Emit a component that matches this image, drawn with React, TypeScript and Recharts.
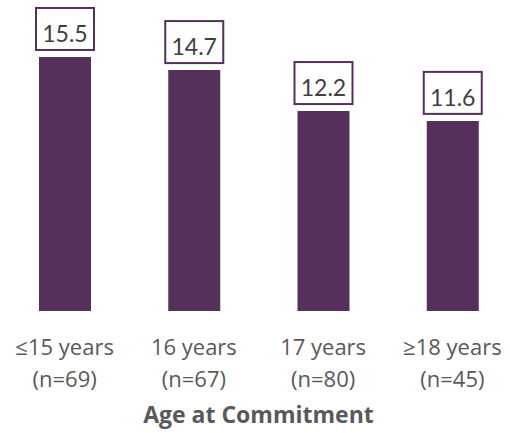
import { BarChart, Bar, XAxis, YAxis, LabelList } from "recharts"

const categories = ["≤15 years", "16 years", "17 years", "≥18 years"]
const sampleSizes = ["(n=69)", "(n=67)", "(n=80)", "(n=45)"]
const values = [15.5, 14.7, 12.2, 11.6]

const data = categories.map((age, i) => ({ age, n: sampleSizes[i], value: values[i] }))

const purple = "#54305a"
const textGray = "#595959"
const font = "'Open Sans', sans-serif"
const labelFont = "Lato, sans-serif"

function AgeTick(props: any) {
  const { x, y, payload, index } = props
  return (
    <text x={x} y={y} textAnchor="middle" fill={textGray} fontSize={22} fontFamily={font}>
      <tspan x={x} dy={36}>{payload.value}</tspan>
      <tspan x={x} dy={32}>{sampleSizes[index]}</tspan>
    </text>
  )
}

function BoxLabel(props: any) {
  const { x, y, width, value } = props
  const cx = x + width / 2
  const boxW = 58
  const boxH = 42
  const bottom = y - 7
  return (
    <g>
      <rect x={cx - boxW / 2} y={bottom - boxH} width={boxW} height={boxH} fill="#fff" stroke={purple} strokeWidth={2} />
      <text x={cx} y={bottom - 8} textAnchor="middle" fill="#404040" fontSize={23} fontFamily={labelFont}>
        {value.toFixed(1)}
      </text>
    </g>
  )
}

export default function App() {
  return (
    <div style={{ position: "absolute", left: 0, top: 0, width: 510, height: 433, overflow: "hidden" }}>
      <BarChart width={518} height={433} data={data} margin={{ top: 16, right: 1, bottom: 0, left: 0 }} barCategoryGap="30%">
        <XAxis
          dataKey="age"
          axisLine={false}
          tickLine={false}
          height={122}
          interval={0}
          tick={<AgeTick />}
          label={{ value: "Age at Commitment", position: "insideBottom", offset: 10, fill: textGray, fontSize: 23, fontWeight: 700, fontFamily: font }}
        />
        <YAxis hide domain={[0, 18]} />
        <Bar dataKey="value" fill={purple} barSize={52} isAnimationActive={false}>
          <LabelList dataKey="value" content={<BoxLabel />} />
        </Bar>
      </BarChart>
    </div>
  )
}
